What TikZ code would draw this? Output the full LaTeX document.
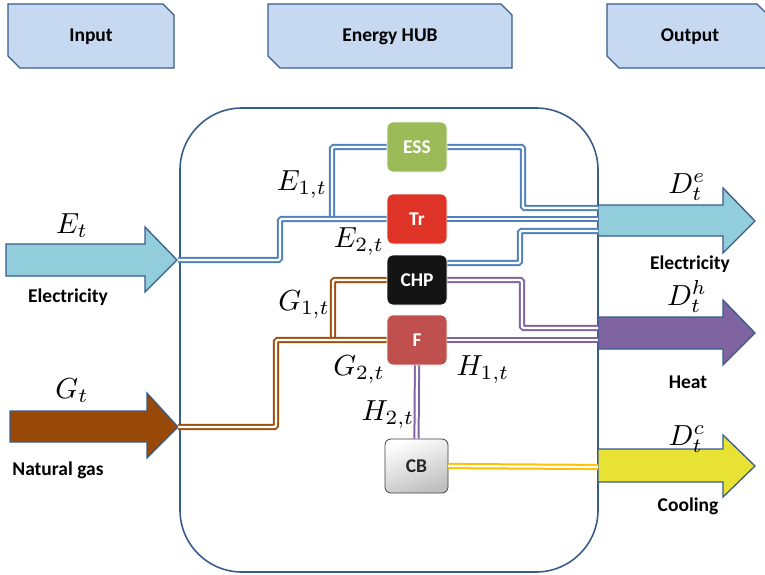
\documentclass[tikz,border=0pt]{standalone}
\usepackage{fontspec}
\setsansfont{Carlito}
\definecolor{hubc}{RGB}{56,93,138}
\definecolor{hdrfill}{RGB}{198,217,241}
\definecolor{elc}{RGB}{79,129,189}
\definecolor{elfill}{RGB}{146,205,220}
\definecolor{gasfill}{RGB}{152,72,7}
\definecolor{gasc}{RGB}{160,78,12}
\definecolor{heatc}{RGB}{128,100,162}
\definecolor{coolfill}{RGB}{232,226,52}
\definecolor{coolc}{RGB}{255,192,0}
\definecolor{essc}{RGB}{155,187,89}
\definecolor{trc}{RGB}{222,51,38}
\definecolor{chpc}{RGB}{20,20,20}
\definecolor{fc}{RGB}{192,80,77}
\newcommand\lbl{\sffamily\bfseries\fontsize{19.5}{22}\selectfont}
\tikzset{
  hdr/.style={draw=hubc, fill=hdrfill, line width=1.3pt},
  lab/.style={font=\lbl, inner sep=0pt},
  mlab/.style={anchor=base, inner sep=0pt, scale=2.9},
  unit/.style={rounded corners=6pt, minimum width=60pt, minimum height=50pt, inner sep=0pt,
    text=white, font=\lbl, draw=white, line width=0.8pt},
  bigarrow/.style={draw=hubc, line width=1.3pt, line join=miter},
  conn/.style={line width=2pt, double=white, double distance=2.2pt, rounded corners=1.5pt},
  eline/.style={conn, draw=elc},
  gline/.style={conn, draw=gasc},
  hline/.style={conn, draw=heatc},
  cline/.style={conn, draw=coolc},
}
\begin{document}
\begin{tikzpicture}[x=1pt, y=-1pt]
\useasboundingbox (0,0) rectangle (765,575);
\fill[white] (0,0) rectangle (765,575);

% header boxes
\draw[hdr] (8,4) -- (163,4) -- (174,15) -- (174,68) -- (20,68) -- (8,56) -- cycle;
\draw[hdr] (268,4) -- (501,4) -- (512,15) -- (512,68) -- (280,68) -- (268,56) -- cycle;
\draw[hdr] (607,4) -- (757,4) -- (768,15) -- (768,68) -- (619,68) -- (607,56) -- cycle;
\node[lab] (hin) at (91,37) {Input};
\node[lab] (hhub) at (390,37) {Energy HUB};
\node[lab] (hout) at (690,37) {Output};

% hub frame
\draw[hubc, line width=1.6pt, rounded corners=62pt] (180,108) rectangle (598,572);

% input arrows
\draw[bigarrow, fill=elfill] (6,244) -- (145,244) -- (145,227) -- (177,260) -- (145,292) -- (145,276) -- (6,276) -- cycle;
\draw[bigarrow, fill=gasfill] (10,411) -- (147,411) -- (147,393) -- (178,427) -- (147,458) -- (147,442) -- (10,442) -- cycle;
% output arrows
\draw[bigarrow, fill=elfill] (598,205) -- (723,205) -- (723,188) -- (755,221) -- (723,253) -- (723,236) -- (598,236) -- cycle;
\draw[bigarrow, fill=heatc] (598,317) -- (723,317) -- (723,300) -- (755,333) -- (723,365) -- (723,349) -- (598,349) -- cycle;
\draw[bigarrow, fill=coolfill] (598,449) -- (723,449) -- (723,435) -- (755,466) -- (723,497) -- (723,482) -- (598,482) -- cycle;

% connection end points
\coordinate (ein) at (178,260);
\coordinate (gin) at (178,427);
\coordinate (ejn) at (332,219);
\coordinate (gjn) at (333,340);
\coordinate (oe1) at (598,208);
\coordinate (oe2) at (598,219);
\coordinate (oe3) at (598,231);
\coordinate (oh1) at (598,328);
\coordinate (oh2) at (598,340);
\coordinate (oc) at (598,467);

% units
\node[unit, fill=essc] (ess) at (417,147) {ESS};
\node[unit, fill=trc] (tr) at (417,219) {Tr};
\node[unit, fill=chpc] (chp) at (417,280) {CHP};
\node[unit, fill=fc] (f) at (417,340) {F};
\node[unit, minimum width=63pt, minimum height=54pt, text=black!85, draw=black!75, line width=0.8pt,
  top color=white, bottom color=black!25, shading angle=20] (cb) at (416.5,466) {CB};

% electricity connections
\draw[eline] (ejn) -- (332,147) -- (ess.west);
\draw[eline] (ein) -- (280,260) -- (280,219) -- (tr.west);
\draw[eline] (ess.east) -- (523,147) -- (523,208) -- (oe1);
\draw[eline] (tr.east) -- (oe2);
\draw[eline] ([yshift=17pt]chp.east) -- (520,263) -- (520,231) -- (oe3);
% heat connections
\draw[hline] (chp.east) -- (522,280) -- (522,328) -- (oh1);
\draw[hline] (f.east) -- (oh2);
\draw[hline] (f.south) -- (cb.north);
% gas connections
\draw[gline] (gjn) -- (333,280) -- (chp.west);
\draw[gline] (gin) -- (276,427) -- (276,340) -- (f.west);
% cooling
\draw[cline] (cb.east) -- (oc);

% math labels
\node[mlab] (let) at (72,233) {$E_t$};
\node[mlab] (lgt) at (72,398) {$G_t$};
\node[mlab] (le1) at (302,190) {$E_{1,t}$};
\node[mlab] (le2) at (359,247) {$E_{2,t}$};
\node[mlab] (lg1) at (304,310) {$G_{1,t}$};
\node[mlab] (lg2) at (359,375) {$G_{2,t}$};
\node[mlab] (lh1) at (483,375) {$H_{1,t}$};
\node[mlab] (lh2) at (388,420) {$H_{2,t}$};
\node[mlab] (lde) at (687,193) {$D_t^e$};
\node[mlab] (ldh) at (687,305) {$D_t^h$};
\node[mlab] (ldc) at (687,445) {$D_t^c$};

% text labels
\node[lab] (tin1) at (68,297) {Electricity};
\node[lab] (tin2) at (58,470) {Natural gas};
\node[lab] (tout1) at (690,264) {Electricity};
\node[lab] (tout2) at (688,382) {Heat};
\node[lab] (tout3) at (688,506) {Cooling};
\end{tikzpicture}
\end{document}
